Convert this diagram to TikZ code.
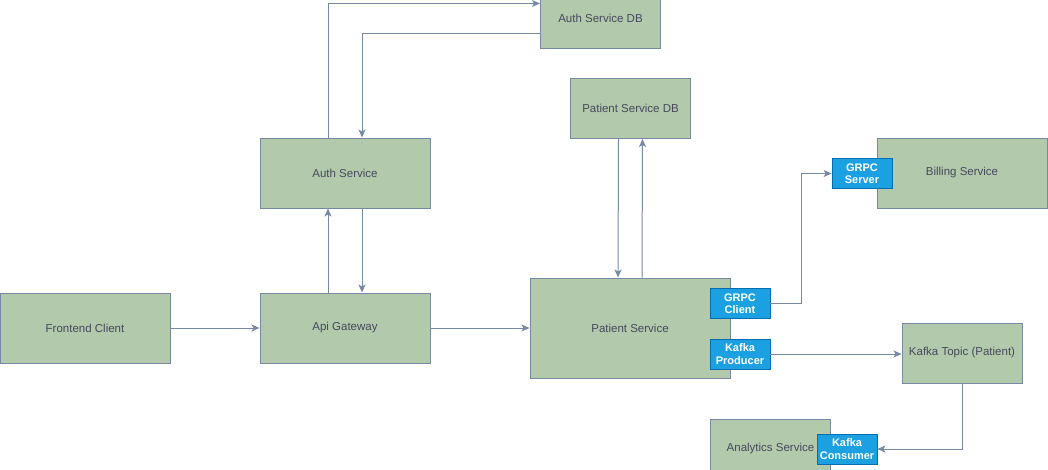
\documentclass[tikz,border=0pt]{standalone}
\usepackage{fontspec}
\setmainfont{Liberation Sans}
\usetikzlibrary{arrows.meta}
\definecolor{svcfill}{HTML}{B2C9AB}
\definecolor{svcline}{HTML}{788AA3}
\definecolor{svctext}{HTML}{46495D}
\definecolor{tagfill}{HTML}{1BA1E2}
\definecolor{tagline}{HTML}{006EAF}
\begin{document}
\begin{tikzpicture}[x=1pt,y=-1pt,
  svc/.style={draw=svcline, fill=svcfill, line width=1pt, text=svctext,
    font=\fontsize{11.5}{13}\selectfont, inner sep=0pt, align=center},
  tag/.style={draw=tagline, fill=tagfill, line width=0.8pt, text=white,
    font=\fontsize{11}{12.5}\selectfont\bfseries, inner sep=0pt, align=center,
    minimum width=60pt, minimum height=30pt},
  link/.style={draw=svcline, line width=1pt,
    -{Stealth[length=8pt,width=7pt,inset=2pt]}}]
\useasboundingbox (0,0) rectangle (1048,469);
\clip (0,0) rectangle (1048,469);

% services
\node[svc, minimum width=170pt, minimum height=70pt] (front) at (85,328) {Frontend Client};
\node[svc, minimum width=170pt, minimum height=70pt] (gw) at (345,328) {Api Gateway};
\node[svc, minimum width=170pt, minimum height=70pt] (auth) at (345,173) {Auth Service};
\node[svc, minimum width=120pt, minimum height=60pt] (authdb) at (600.5,18.5) {Auth Service DB};
\node[svc, minimum width=120pt, minimum height=60pt] (patdb) at (630.5,108.5) {Patient Service DB};
\node[svc, minimum width=200pt, minimum height=100pt] (pat) at (630,328) {Patient Service};
\node[svc, minimum width=170pt, minimum height=70pt] (bill) at (962,173) {Billing Service};
\node[svc, minimum width=120pt, minimum height=60pt] (topic) at (962,353) {Kafka Topic (Patient)};
\node[svc, minimum width=120pt, minimum height=60pt] (analytics) at (770.5,449) {Analytics Service};

% interface tags
\node[tag] (grpcc) at (740,303.5) {GRPC\\Client};
\node[tag] (kprod) at (740,354) {Kafka\\Producer};
\node[tag] (grpcs) at (862,173.5) {GRPC\\Server};
\node[tag] (kcons) at (847,449) {Kafka\\Consumer};

\coordinate (bend) at (801,303.5);

% connectors
\draw[link] (front.east) -- (gw.west);
\draw[link] (gw.east) -- (pat.west);
\draw[link] ([xshift=-17pt]gw.north) -- ([xshift=-17pt]auth.south);
\draw[link] ([xshift=17pt]auth.south) -- ([xshift=17pt]gw.north);
\draw[link] ([xshift=-17pt]auth.north) |- ([yshift=15pt]authdb.west);
\draw[link] ([yshift=-15pt]authdb.west) -| ([xshift=17pt]auth.north);
\draw[link] ([xshift=-12pt]patdb.south) -- ([xshift=-12pt]pat.north);
\draw[link] ([xshift=12pt]pat.north) -- ([xshift=12pt]patdb.south);
\draw[link] (grpcc.east) -- (bend) |- (grpcs.west);
\draw[link] (kprod.east) -- (kprod.east -| topic.west);
\draw[link] (topic.south) |- (kcons.east);
\end{tikzpicture}
\end{document}
